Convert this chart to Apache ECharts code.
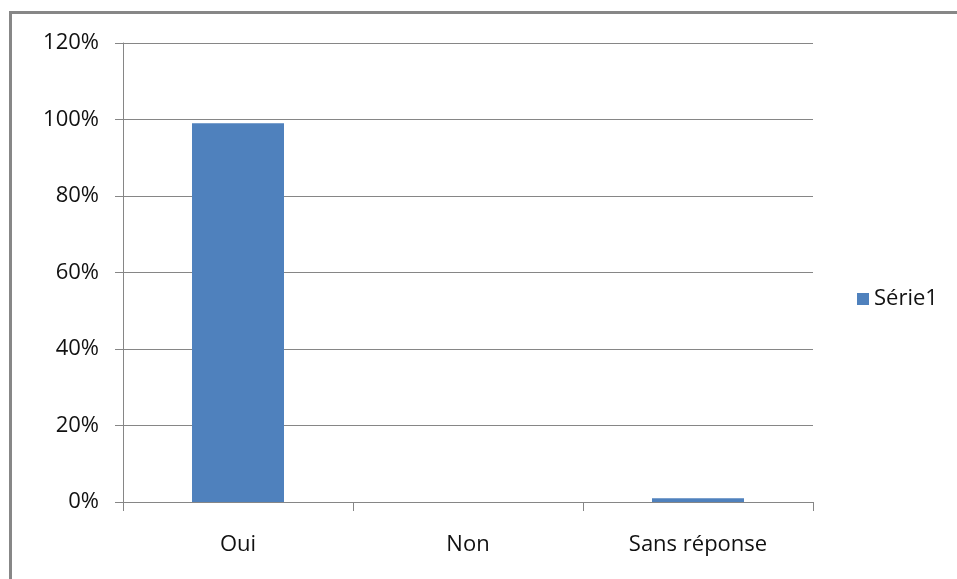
<!DOCTYPE html>
<html>
<head>
<meta charset="utf-8">
<script src="https://cdn.jsdelivr.net/npm/echarts@6/dist/echarts.min.js"></script>
<style>
  html, body { margin: 0; padding: 0; background: #fff; }
  #chart { width: 957px; height: 579px; }
</style>
</head>
<body>
<div id="chart"></div>
<script>
// Réponses (part des répondants)
const categories = ['Oui', 'Non', 'Sans réponse'];
const serie1 = [0.99, 0, 0.01];
const seriesName = 'Série1';
const yTicks = { min: 0, max: 1.2, interval: 0.2 };

const gridColor = '#868686';
const font = 'Open Sans';

const chart = echarts.init(document.getElementById('chart'));
chart.setOption({
  animation: false,
  backgroundColor: '#fff',
  graphic: [{
    type: 'rect',
    shape: { x: 10.5, y: 12.5, width: 1000, height: 700 },
    style: { fill: 'none', stroke: '#878787', lineWidth: 3 },
    silent: true
  }],
  grid: { left: 123, top: 43, right: 144, bottom: 77, containLabel: false },
  legend: {
    data: [seriesName],
    orient: 'vertical',
    left: 857,
    top: 288,
    padding: 0,
    itemWidth: 12,
    itemHeight: 12,
    itemGap: 5,
    icon: 'rect',
    textStyle: { fontFamily: font, fontSize: 22, color: '#111' }
  },
  xAxis: {
    type: 'category',
    data: categories,
    boundaryGap: true,
    axisLine: { lineStyle: { color: gridColor, width: 1 } },
    axisTick: { show: true, interval: 0, length: 9, lineStyle: { color: gridColor } },
    axisLabel: { margin: 32, fontFamily: font, fontSize: 22, color: '#111' }
  },
  yAxis: {
    type: 'value',
    min: yTicks.min,
    max: yTicks.max,
    interval: yTicks.interval,
    axisLine: { show: true, lineStyle: { color: gridColor, width: 1 } },
    axisTick: { show: true, length: 8, lineStyle: { color: gridColor } },
    splitLine: { show: true, lineStyle: { color: gridColor, width: 1 } },
    axisLabel: {
      margin: 24,
      fontFamily: font,
      fontSize: 22,
      color: '#111',
      formatter: v => Math.round(v * 100) + '%'
    }
  },
  series: [{
    name: seriesName,
    type: 'bar',
    data: serie1,
    barWidth: '40%',
    itemStyle: { color: '#4F81BD' }
  }]
});
</script>
</body>
</html>
